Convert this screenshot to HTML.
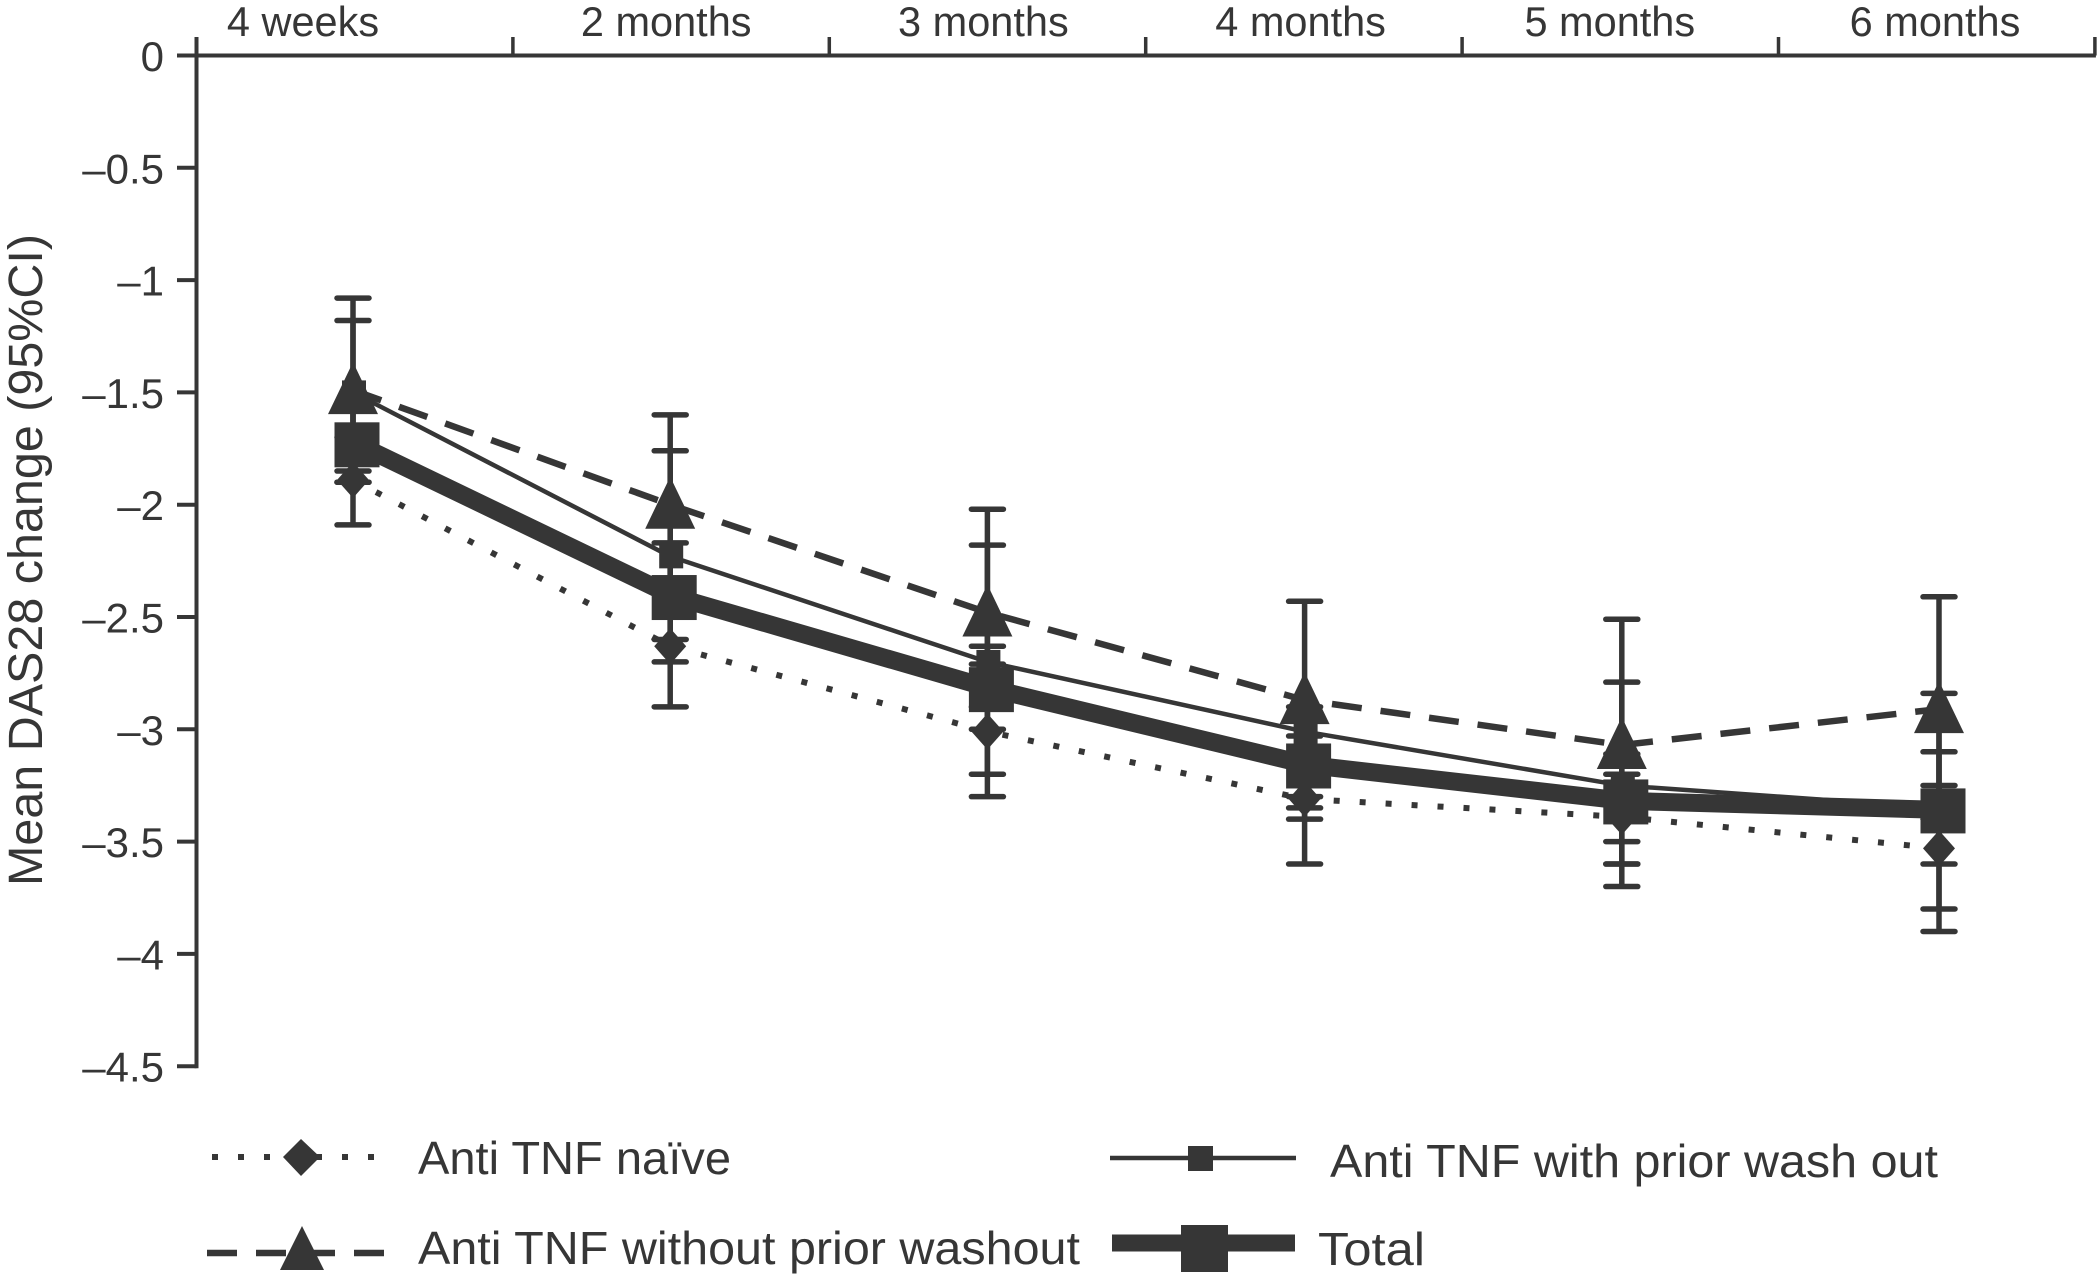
<!DOCTYPE html>
<html lang="en">
<head>
<meta charset="utf-8">
<title>Mean DAS28 change over time</title>
<style>
html,body{margin:0;padding:0;background:#fff;width:2097px;height:1277px;overflow:hidden}
svg{display:block}
text{font-family:"Liberation Sans",Arial,sans-serif;fill:#363636}
</style>
</head>
<body>
<svg id="chart" xmlns="http://www.w3.org/2000/svg" width="2097" height="1277" viewBox="0 0 2097 1277">
  <rect x="0" y="0" width="2097" height="1277" fill="#fff"/>
  <text transform="translate(42 560) rotate(-90)" text-anchor="middle" font-size="48" textLength="652" lengthAdjust="spacingAndGlyphs">Mean DAS28 change (95%CI)</text>
  <g id="axes"></g>
  <g id="plot"></g>

  <g>
    <g>
      <line x1="212" y1="1157" x2="384" y2="1157" stroke="#363636" stroke-width="6" stroke-dasharray="6 20"/>
      <polygon points="301,1139 320,1157 301,1176 283,1157" fill="#363636"/>
      <text x="418" y="1174" font-size="46" textLength="313" lengthAdjust="spacingAndGlyphs">Anti TNF naïve</text>
    </g>
    <g>
      <line x1="1110" y1="1158" x2="1296" y2="1158" stroke="#363636" stroke-width="4.5"/>
      <rect x="1188" y="1146" width="25" height="25" fill="#363636"/>
      <text x="1330" y="1177" font-size="46" textLength="608" lengthAdjust="spacingAndGlyphs">Anti TNF with prior wash out</text>
    </g>
    <g>
      <line x1="207" y1="1253" x2="384" y2="1253" stroke="#363636" stroke-width="6.5" stroke-dasharray="30 19"/>
      <polygon points="302,1226 324,1270 280,1270" fill="#363636"/>
      <text x="418" y="1264" font-size="46" textLength="662" lengthAdjust="spacingAndGlyphs">Anti TNF without prior washout</text>
    </g>
    <g>
      <line x1="1112" y1="1243" x2="1295" y2="1243" stroke="#363636" stroke-width="17"/>
      <rect x="1181" y="1225" width="47" height="47" fill="#363636"/>
      <text x="1318" y="1265" font-size="46" textLength="107" lengthAdjust="spacingAndGlyphs">Total</text>
    </g>
  </g>
</svg>
<script>
var categories = ["4 weeks", "2 months", "3 months", "4 months", "5 months", "6 months"];
var yTicks = [0, -0.5, -1, -1.5, -2, -2.5, -3, -3.5, -4, -4.5];
var yTickLabels = ["0", "\u20130.5", "\u20131", "\u20131.5", "\u20132", "\u20132.5", "\u20133", "\u20133.5", "\u20134", "\u20134.5"];

var naiveMean = [-1.89, -2.63, -3.01, -3.31, -3.39, -3.53];
var naiveUpper = [-1.70, -2.40, -2.71, -3.03, -3.20, -3.25];
var naiveLower = [-2.09, -2.90, -3.30, -3.60, -3.60, -3.80];

var withWashMean = [-1.50, -2.23, -2.70, -3.01, -3.25, -3.35];
var withWashUpper = [-1.18, -1.76, -2.18, -2.90, -2.79, -2.84];
var withWashLower = [-1.85, -2.70, -3.20, -3.40, -3.70, -3.90];

var withoutWashMean = [-1.49, -2.00, -2.48, -2.87, -3.07, -2.91];
var withoutWashUpper = [-1.08, -1.60, -2.02, -2.43, -2.51, -2.41];
var withoutWashLower = [-1.90, -2.40, -2.90, -3.30, -3.60, -3.40];

var totalMean = [-1.72, -2.40, -2.81, -3.15, -3.31, -3.35];
var totalUpper = [-1.55, -2.17, -2.63, -2.95, -3.11, -3.10];
var totalLower = [-1.90, -2.60, -3.00, -3.35, -3.50, -3.60];

var INK = "#363636";
var NS = "http://www.w3.org/2000/svg";
var axes = document.getElementById("axes");
var plot = document.getElementById("plot");

function x(i) { return 353 + 317.2 * i; }
function y(v) { return 55.5 + (-v) * 224.6; }
function bandEdge(i) { return 196.5 + 316.4 * i; }
function labelX(i) { return x(i) + (i === 0 ? -50 : i === 4 ? -12 : -4); }

function make(tag, attrs, parent) {
  var el = document.createElementNS(NS, tag);
  for (var k in attrs) el.setAttribute(k, attrs[k]);
  parent.appendChild(el);
  return el;
}

/* axes */
var yAxisLine = make("line", {x1: 196.5, y1: 37, x2: 196.5, y2: y(-4.5) + 2, stroke: INK, "stroke-width": 4}, axes);



var topAxisLine = make("line", {x1: 177, y1: y(0), x2: bandEdge(categories.length) + 1, y2: y(0), stroke: INK, "stroke-width": 4}, axes);



yTicks.forEach(function (v, i) {
  var tick = make("line", {x1: 177, y1: y(v), x2: 196.5, y2: y(v), stroke: INK, "stroke-width": 4}, axes);
  
  
  var label = make("text", {x: 164, y: y(v) + 15.5, "text-anchor": "end", "font-size": 42}, axes);
  label.textContent = yTickLabels[i];
  
  
});

for (var e = 1; e <= categories.length; e++) {
  var xTick = make("line", {x1: bandEdge(e), y1: 37, x2: bandEdge(e), y2: y(0), stroke: INK, "stroke-width": 3.5}, axes);
  
  
}

categories.forEach(function (c, i) {
  var label = make("text", {x: labelX(i), y: 36, "text-anchor": "middle", "font-size": 41.5}, axes);
  label.textContent = c;
  
  
});

/* error bars */
function drawErrors(upper, lower, dx, groupName) {
  var g = make("g", {}, plot);
  
  
  upper.forEach(function (u, i) {
    var cx = x(i) + dx;
    make("line", {x1: cx, y1: y(u), x2: cx, y2: y(lower[i]), stroke: INK, "stroke-width": 5.5}, g);
    make("line", {x1: cx - 16, y1: y(u), x2: cx + 16, y2: y(u), stroke: INK, "stroke-width": 5.5, "stroke-linecap": "round"}, g);
    make("line", {x1: cx - 16, y1: y(lower[i]), x2: cx + 16, y2: y(lower[i]), stroke: INK, "stroke-width": 5.5, "stroke-linecap": "round"}, g);
  });
}

/* series lines */
function drawLine(values, dx, dy, width, dash, name) {
  var pts = values.map(function (v, i) { return (x(i) + dx) + "," + (y(v) + dy); }).join(" ");
  var attrs = {points: pts, fill: "none", stroke: INK, "stroke-width": width, "stroke-linejoin": "round"};
  if (dash) attrs["stroke-dasharray"] = dash;
  var line = make("polyline", attrs, plot);
  
  
}

/* markers */
function drawMarkers(values, kind, dx, dy, size, name) {
  var g = make("g", {fill: INK}, plot);
  
  
  values.forEach(function (v, i) {
    var cx = x(i) + dx, cy = y(v) + dy, s = size / 2;
    if (kind === "square") {
      make("rect", {x: cx - s, y: cy - s, width: size, height: size}, g);
    } else if (kind === "diamond") {
      make("polygon", {points: cx + "," + (cy - s - 1) + " " + (cx + s - 1) + "," + cy + " " + cx + "," + (cy + s + 1) + " " + (cx - s + 1) + "," + cy}, g);
    } else {
      make("polygon", {points: cx + "," + (cy - s) + " " + (cx + s - 1) + "," + (cy + s) + " " + (cx - s + 1) + "," + (cy + s)}, g);
    }
  });
}

drawLine(naiveMean, 0, 0, 6, "6 20", "line-anti-tnf-naive");
drawLine(withoutWashMean, 0, 0, 6.5, "30 19", "line-anti-tnf-without-washout");
drawLine(withWashMean, 0, 0, 4.5, null, "line-anti-tnf-with-washout");
drawLine(totalMean, 3.5, 2, 18, null, "line-total");

drawErrors(naiveUpper, naiveLower, 0, "error-bars-naive");
drawErrors(withWashUpper, withWashLower, 0, "error-bars-with-washout");
drawErrors(withoutWashUpper, withoutWashLower, 0, "error-bars-without-washout");
drawErrors(totalUpper, totalLower, 0, "error-bars-total");

drawMarkers(naiveMean, "diamond", 0, 0, 34, "markers-anti-tnf-naive");
drawMarkers(withWashMean, "square", 1, 0, 24, "markers-anti-tnf-with-washout");
drawMarkers(withoutWashMean, "triangle", 0, -2, 52, "markers-anti-tnf-without-washout");
drawMarkers(totalMean, "square", 4, 3, 45, "markers-total");
</script>
</body>
</html>
